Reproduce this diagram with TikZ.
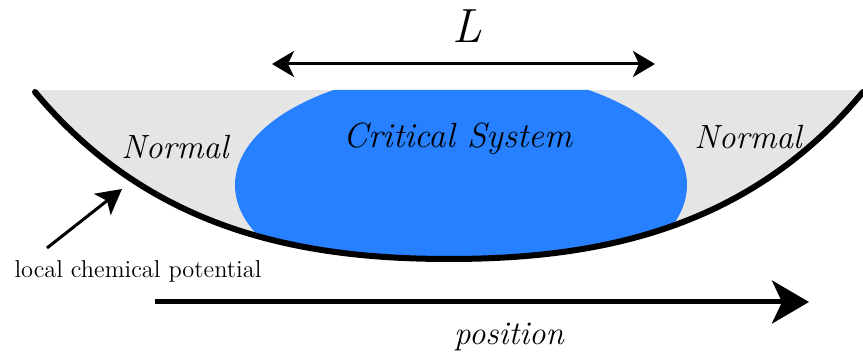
\documentclass[tikz,border=0pt]{standalone}
\usetikzlibrary{positioning,arrows.meta}
\definecolor{normalgray}{RGB}{229,229,229}
\definecolor{critblue}{RGB}{38,128,255}

\begin{document}
\begin{tikzpicture}[
    x=0.5pt, y=-0.5pt,
    phase/.style={font=\fontsize{17.5}{20}\selectfont\itshape, anchor=base},
    note/.style={font=\fontsize{12.2}{14}\selectfont, anchor=base},
    dimarr/.style={{Stealth[length=11pt,width=13pt,inset=3pt]}-{Stealth[length=11pt,width=13pt,inset=3pt]},
                   line width=1.5pt},
    ptr/.style={-{Stealth[length=12.5pt,width=13.5pt,inset=3pt]}, line width=1.5pt},
    axisarr/.style={-{Stealth[length=18.5pt,width=21.5pt,inset=5pt]}, line width=2.5pt},
    well/.style={line width=3pt, line cap=round}
]
  \useasboundingbox (0,0) rectangle (863,356);
  \clip (0,0) rectangle (863,356);
  % trap: normal and critical regions
  \begin{scope}
    \clip (35,90) -- (863,90) -- (863,92)
      .. controls (748,230) and (598,259) .. (449,259)
      .. controls (300,259) and (150,230) .. (35,92) -- cycle;
    \fill[normalgray] (0,90) rectangle (863,300);
    \fill[critblue] (461,185) ellipse [x radius=226, y radius=115];
  \end{scope}
  \draw[well] (35,92) .. controls (150,230) and (300,259) .. (449,259)
    .. controls (598,259) and (748,230) .. (863,92);
  % labels
  \node[phase] (crit)  at (458,148) {Critical System};
  \node[phase, font=\fontsize{16.8}{19}\selectfont\itshape] (normL) at (175,159) {Normal};
  \node[phase, font=\fontsize{16.8}{19}\selectfont\itshape] (normR) at (748,149) {Normal};
  \node[note]  (lcp)   at (138,278) {local chemical potential};
  \node[phase, font=\fontsize{24}{27}\selectfont\itshape] (len) at (467,43) {L};
  \node[phase, font=\fontsize{16.5}{19}\selectfont\itshape] (pos) at (509,345) {position};
  % arrows
  \coordinate (lenL) at (272,64);
  \coordinate (lenR) at (655,64);
  \draw[dimarr] (lenL) -- (lenR);
  \coordinate (ptrtail) at (47,248);
  \coordinate (wellpt)  at (122,189);
  \draw[ptr] (ptrtail) -- (wellpt);
  \coordinate (posA) at (155,302);
  \coordinate (posB) at (809,302);
  \draw[axisarr] (posA) -- (posB);
\end{tikzpicture}
\end{document}
